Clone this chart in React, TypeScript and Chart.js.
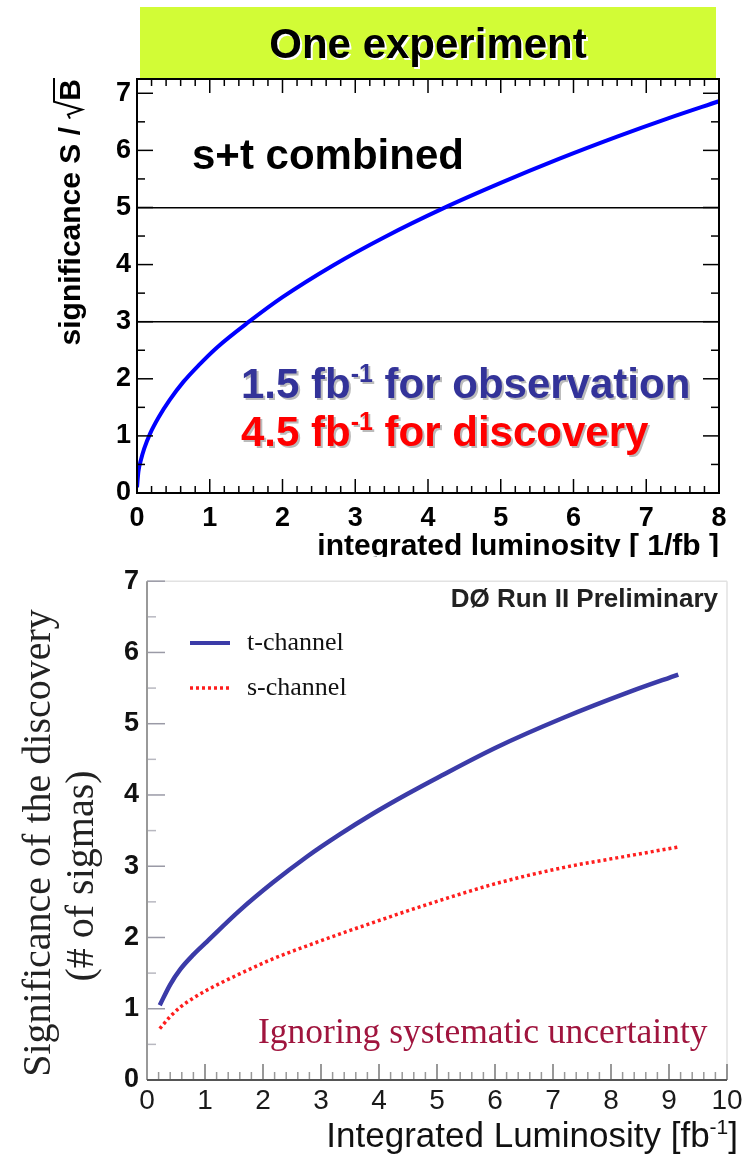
import React, { useEffect, useRef } from "react";
import { Chart, registerables } from "chart.js";

Chart.register(...registerables);

// ---------- DATA ----------
// Top chart: s+t combined significance vs integrated luminosity
const topLumi = [0, 0.02, 0.05, 0.1, 0.18, 0.3, 0.45, 0.64, 0.85, 1.1, 1.54, 2, 2.7, 3.4, 4.2, 5, 5.8, 6.6, 7.3, 8];
const topSignif = [0.1, 0.38, 0.56, 0.78, 1.04, 1.33, 1.63, 1.95, 2.24, 2.55, 3.0, 3.43, 3.99, 4.48, 4.98, 5.43, 5.85, 6.24, 6.56, 6.86];
const topThresholds = [3, 5];
const topXTicks = [0, 1, 2, 3, 4, 5, 6, 7, 8];
const topYTicks = [0, 1, 2, 3, 4, 5, 6, 7];

// Bottom chart: D0 t-channel and s-channel
const tLumi = [0.22, 0.4, 0.57, 0.8, 1.03, 1.6, 2.17, 2.75, 3.33, 3.9, 4.48, 5.05, 6.03, 7.17, 8.33, 9.16];
const tSignif = [1.05, 1.34, 1.55, 1.76, 1.94, 2.38, 2.77, 3.13, 3.45, 3.74, 4.01, 4.26, 4.67, 5.08, 5.45, 5.69];
const sLumi = [0.22, 0.4, 0.57, 0.8, 1.03, 1.6, 2.17, 2.75, 3.33, 3.9, 4.48, 5.05, 6.03, 7.17, 8.33, 9.16];
const sSignif = [0.72, 0.89, 1.02, 1.15, 1.26, 1.49, 1.7, 1.88, 2.05, 2.21, 2.37, 2.52, 2.76, 2.98, 3.15, 3.27];
const botXTicks = [0, 1, 2, 3, 4, 5, 6, 7, 8, 9, 10];
const botYTicks = [0, 1, 2, 3, 4, 5, 6, 7];

const SANS = "Arial, 'Liberation Sans', Helvetica, sans-serif";
const SERIF = "'Times New Roman', 'Liberation Serif', Times, serif";

type Seg = { t: string; sup?: boolean };

function drawRich(
  ctx: CanvasRenderingContext2D,
  segs: Seg[],
  x: number,
  y: number,
  size: number,
  weight: string,
  family: string,
  color: string,
  align: "left" | "right" | "center" = "left",
  shadow?: string
) {
  const supSize = Math.round(size * 0.6);
  const fMain = `${weight} ${size}px ${family}`;
  const fSup = `${weight} ${supSize}px ${family}`;
  ctx.save();
  ctx.textAlign = "left";
  ctx.textBaseline = "alphabetic";
  let total = 0;
  const widths = segs.map((s) => {
    ctx.font = s.sup ? fSup : fMain;
    const w = ctx.measureText(s.t).width;
    total += w;
    return w;
  });
  const cx = align === "left" ? x : align === "right" ? x - total : x - total / 2;
  const pass = (col: string, dx: number, dy: number) => {
    let px = cx + dx;
    segs.forEach((s, i) => {
      ctx.font = s.sup ? fSup : fMain;
      ctx.fillStyle = col;
      ctx.fillText(s.t, px, y + dy + (s.sup ? -size * 0.38 : 0));
      px += widths[i];
    });
  };
  if (shadow) pass(shadow, 2, 2);
  pass(color, 0, 0);
  ctx.restore();
  return total;
}

function line(ctx: CanvasRenderingContext2D, x1: number, y1: number, x2: number, y2: number) {
  ctx.beginPath();
  ctx.moveTo(x1, y1);
  ctx.lineTo(x2, y2);
  ctx.stroke();
}

function range(a: number, b: number, step: number) {
  const out: number[] = [];
  for (let i = 0; a + i * step <= b + 1e-9; i++) out.push(+(a + i * step).toFixed(4));
  return out;
}

const topPlugin = {
  id: "topDecor",
  beforeDraw(chart: any) {
    const ctx: CanvasRenderingContext2D = chart.ctx;
    ctx.save();
    ctx.fillStyle = "#ffffff";
    ctx.fillRect(0, 0, chart.width, chart.height);
    // green title box
    ctx.fillStyle = "#d2fc36";
    ctx.fillRect(140, 7, 576, 72);
    drawRich(ctx, [{ t: "One experiment" }], 428, 58, 42, "bold", SANS, "#000", "center", "#ffffff");
    ctx.restore();
  },
  afterDraw(chart: any) {
    const ctx: CanvasRenderingContext2D = chart.ctx;
    const { left, right, top, bottom } = chart.chartArea;
    const xs = chart.scales.x;
    const ys = chart.scales.y;
    ctx.save();
    ctx.strokeStyle = "#000";
    ctx.lineWidth = 1.5;
    // inner ticks
    range(0, 8, 0.2).forEach((v) => {
      const px = xs.getPixelForValue(v);
      const major = Math.abs(v - Math.round(v)) < 1e-6;
      const len = major ? 14 : 7;
      line(ctx, px, bottom, px, bottom - len);
      line(ctx, px, top, px, top + len);
    });
    range(0, 7, 0.5).forEach((v) => {
      const py = ys.getPixelForValue(v);
      const major = Math.abs(v - Math.round(v)) < 1e-6;
      const len = major ? 16 : 8;
      line(ctx, left, py, left + len, py);
      line(ctx, right, py, right - len, py);
    });
    ctx.lineWidth = 2;
    ctx.strokeRect(left, top, right - left, bottom - top);

    // annotations
    drawRich(ctx, [{ t: "s+t combined" }], 192, 169, 42, "bold", SANS, "#000");
    drawRich(ctx, [{ t: "1.5 fb" }, { t: "-1", sup: true }, { t: " for observation" }], 241, 398, 42, "bold", SANS, "#333399", "left", "#bbbbbb");
    drawRich(ctx, [{ t: "4.5 fb" }, { t: "-1", sup: true }, { t: " for discovery" }], 241, 446, 42, "bold", SANS, "#ff0000", "left", "#bbbbbb");

    // x title
    drawRich(ctx, [{ t: "integrated luminosity [ 1/fb ]" }], 719, 555, 30, "bold", SANS, "#000", "right");

    // y title (rotated) : significance S / sqrt(B)
    ctx.save();
    ctx.translate(80, 78);
    ctx.rotate(-Math.PI / 2);
    ctx.font = `bold 30px ${SANS}`;
    ctx.fillStyle = "#000";
    ctx.textBaseline = "alphabetic";
    const p1 = "significance S / ";
    const w1 = ctx.measureText(p1).width;
    const wB = ctx.measureText("B").width;
    const wRad = 17;
    const total = w1 + wRad + wB + 2;
    const x0 = -total;
    ctx.fillText(p1, x0, 0);
    // radical sign
    const rx = x0 + w1;
    ctx.strokeStyle = "#000";
    ctx.lineWidth = 2;
    ctx.beginPath();
    ctx.moveTo(rx, -10);
    ctx.lineTo(rx + 4, -12);
    ctx.lineTo(rx + 9, 2);
    ctx.lineTo(rx + wRad, -26);
    ctx.lineTo(rx + wRad + wB + 2, -26);
    ctx.stroke();
    ctx.fillText("B", rx + wRad + 1, 0);
    ctx.restore();

    ctx.restore();
  },
};

const botPlugin = {
  id: "botDecor",
  beforeDraw(chart: any) {
    const ctx: CanvasRenderingContext2D = chart.ctx;
    ctx.save();
    ctx.fillStyle = "#ffffff";
    ctx.fillRect(0, 0, chart.width, chart.height);
    ctx.restore();
  },
  afterDraw(chart: any) {
    const ctx: CanvasRenderingContext2D = chart.ctx;
    const { left, right, top, bottom } = chart.chartArea;
    const xs = chart.scales.x;
    const ys = chart.scales.y;
    ctx.save();
    // faint top/right frame
    ctx.strokeStyle = "#e2e2e2";
    ctx.lineWidth = 1.5;
    line(ctx, left, top, right, top);
    line(ctx, right, top, right, bottom);
    // y ticks
    range(0, 7, 0.5).forEach((v) => {
      const py = ys.getPixelForValue(v);
      const major = Math.abs(v - Math.round(v)) < 1e-6;
      ctx.strokeStyle = major ? "#9a9aa6" : "#b8b8c0";
      ctx.lineWidth = 1.5;
      line(ctx, left, py, left + (major ? 18 : 9), py);
    });
    // x ticks
    range(0, 10, 0.2).forEach((v) => {
      const px = xs.getPixelForValue(v);
      const major = Math.abs(v - Math.round(v)) < 1e-6;
      ctx.strokeStyle = major ? "#777" : "#999";
      ctx.lineWidth = 1.5;
      line(ctx, px, bottom, px, bottom - (major ? 16 : 8));
    });
    // axes
    ctx.strokeStyle = "#999";
    ctx.lineWidth = 2;
    line(ctx, left, top, left, bottom);
    ctx.strokeStyle = "#555";
    line(ctx, left, bottom, right, bottom);

    // header
    drawRich(ctx, [{ t: "D\u00d8 Run II Preliminary" }], 718, 50, 26, "bold", SANS, "#222", "right");

    // legend
    const ds = chart.data.datasets;
    ctx.strokeStyle = ds[0].borderColor;
    ctx.lineWidth = 4;
    line(ctx, 190, 86, 230, 86);
    ctx.strokeStyle = ds[1].borderColor;
    ctx.lineWidth = 3.5;
    ctx.setLineDash([3, 3]);
    line(ctx, 190, 131, 230, 131);
    ctx.setLineDash([]);
    drawRich(ctx, [{ t: ds[0].label }], 247, 93, 26, "normal", SERIF, "#111");
    drawRich(ctx, [{ t: ds[1].label }], 247, 138, 26, "normal", SERIF, "#111");

    // note
    drawRich(ctx, [{ t: "Ignoring systematic uncertainty" }], 258, 486, 35.5, "normal", SERIF, "#a0153e");

    // x title
    drawRich(ctx, [{ t: "Integrated Luminosity [fb" }, { t: "-1", sup: true }, { t: "]" }], 738, 590, 35, "normal", SANS, "#111", "right");

    // y title
    ctx.save();
    ctx.translate(50, 286);
    ctx.rotate(-Math.PI / 2);
    drawRich(ctx, [{ t: "Significance of the discovery" }], 0, 0, 40, "normal", SERIF, "#222", "center");
    ctx.restore();
    ctx.save();
    ctx.translate(93, 319);
    ctx.rotate(-Math.PI / 2);
    drawRich(ctx, [{ t: "(# of sigmas)" }], 0, 0, 40, "normal", SERIF, "#222", "center");
    ctx.restore();

    ctx.restore();
  },
};

function useChart(ref: React.RefObject<HTMLCanvasElement>, makeConfig: () => any) {
  useEffect(() => {
    if (!ref.current) return;
    const chart = new Chart(ref.current, makeConfig());
    return () => chart.destroy();
  }, []);
}

export default function App() {
  const topRef = useRef<HTMLCanvasElement>(null);
  const botRef = useRef<HTMLCanvasElement>(null);

  useChart(topRef, () => ({
    type: "line",
    data: {
      datasets: [
        {
          label: "s+t combined",
          data: topLumi.map((x, i) => ({ x, y: topSignif[i] })),
          borderColor: "#0000ff",
          borderWidth: 4,
          pointRadius: 0,
          fill: false,
          cubicInterpolationMode: "monotone",
        },
      ],
    },
    options: {
      animation: false,
      responsive: false,
      maintainAspectRatio: false,
      layout: { padding: { left: 0, right: 29, top: 79, bottom: 0 } },
      plugins: { legend: { display: false }, tooltip: { enabled: false } },
      scales: {
        x: {
          type: "linear",
          min: 0,
          max: 8,
          afterBuildTicks: (s: any) => {
            s.ticks = topXTicks.map((v) => ({ value: v }));
          },
          ticks: { font: { family: SANS, weight: "bold", size: 27 }, color: "#000", padding: 9, maxRotation: 0, autoSkip: false },
          grid: { display: false, drawTicks: false },
          border: { display: false },
          afterFit: (s: any) => {
            s.height = 64;
          },
        },
        y: {
          type: "linear",
          min: 0,
          max: 7.25,
          afterBuildTicks: (s: any) => {
            s.ticks = topYTicks.map((v) => ({ value: v }));
          },
          ticks: { font: { family: SANS, weight: "bold", size: 27 }, color: "#000", padding: 6, autoSkip: false },
          grid: {
            drawTicks: false,
            color: (c: any) => (c.tick && topThresholds.includes(c.tick.value) ? "#000" : "rgba(0,0,0,0)"),
            lineWidth: 1.5,
          },
          border: { display: false },
          afterFit: (s: any) => {
            s.width = 137;
          },
        },
      },
    },
    plugins: [topPlugin],
  }));

  useChart(botRef, () => ({
    type: "line",
    data: {
      datasets: [
        {
          label: "t-channel",
          data: tLumi.map((x, i) => ({ x, y: tSignif[i] })),
          borderColor: "#3b3ba8",
          borderWidth: 4.5,
          pointRadius: 0,
          fill: false,
          cubicInterpolationMode: "monotone",
        },
        {
          label: "s-channel",
          data: sLumi.map((x, i) => ({ x, y: sSignif[i] })),
          borderColor: "#ff1e1e",
          borderWidth: 3.5,
          borderDash: [3, 3],
          pointRadius: 0,
          fill: false,
          cubicInterpolationMode: "monotone",
        },
      ],
    },
    options: {
      animation: false,
      responsive: false,
      maintainAspectRatio: false,
      layout: { padding: { left: 0, right: 21, top: 21, bottom: 0 } },
      plugins: { legend: { display: false }, tooltip: { enabled: false } },
      scales: {
        x: {
          type: "linear",
          min: 0,
          max: 10,
          afterBuildTicks: (s: any) => {
            s.ticks = botXTicks.map((v) => ({ value: v }));
          },
          ticks: { font: { family: SANS, weight: "normal", size: 28 }, color: "#1a1a1a", padding: 4, maxRotation: 0, autoSkip: false },
          grid: { display: false, drawTicks: false },
          border: { display: false },
          afterFit: (s: any) => {
            s.height = 76;
          },
        },
        y: {
          type: "linear",
          min: 0,
          max: 7,
          afterBuildTicks: (s: any) => {
            s.ticks = botYTicks.map((v) => ({ value: v }));
          },
          ticks: { font: { family: SANS, weight: "bold", size: 27 }, color: "#111", padding: 8, autoSkip: false },
          grid: { display: false, drawTicks: false },
          border: { display: false },
          afterFit: (s: any) => {
            s.width = 147;
          },
        },
      },
    },
    plugins: [botPlugin],
  }));

  return (
    <div style={{ position: "absolute", left: 0, top: 0, width: 748, height: 1156, background: "#fff" }}>
      <canvas ref={topRef} width={748} height={557} style={{ display: "block", width: 748, height: 557 }} />
      <canvas ref={botRef} width={748} height={599} style={{ display: "block", width: 748, height: 599 }} />
    </div>
  );
}
